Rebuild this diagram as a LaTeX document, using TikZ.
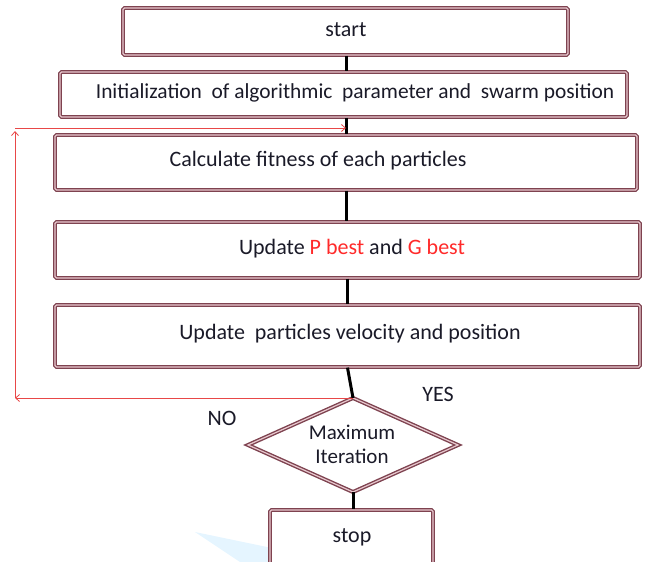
\documentclass[tikz,border=0pt]{standalone}
\usepackage{fontspec}
\setmainfont{Carlito}
\usetikzlibrary{arrows.meta}
\definecolor{boxdark}{HTML}{7E4350}
\definecolor{boxlight}{HTML}{E8C8CE}
\definecolor{txt}{HTML}{1A1A28}
\definecolor{redtxt}{HTML}{FF2A2A}
\definecolor{loopred}{HTML}{E84848}
\begin{document}
\begin{tikzpicture}[x=1pt,y=-1pt,
  procbox/.style={draw=boxdark, line width=1.3pt, double=boxlight, double distance=1.1pt,
    rounded corners=1.5pt, fill=white, inner sep=0pt},
  outline/.style={draw=boxdark, line width=1.4pt, double=boxlight, double distance=1.2pt, fill=white},
  lbl/.style={text=txt, font=\fontsize{22}{24}\selectfont, inner sep=0pt},
  dlbl/.style={text=txt, font=\fontsize{21}{24}\selectfont, inner sep=0pt, align=center},
  flow/.style={line width=3pt, draw=black},
  loop/.style={draw=loopred, line width=0.8pt, -{Straight Barb[length=4pt,width=7pt]}}
]
\useasboundingbox (0,0) rectangle (653,562);
\clip (0,0) rectangle (653,562);
\fill[blue!40!cyan!20, opacity=0.5] (195,532) -- (272,548) -- (272,562) -- (240,562) -- cycle;

% boxes
\node[procbox, minimum width=445pt, minimum height=47pt] (start) at (345.5,31.5) {};
\node[procbox, minimum width=567pt, minimum height=45pt] (init) at (343.5,94.5) {};
\node[procbox, minimum width=582pt, minimum height=55pt] (fit) at (346,162.5) {};
\node[procbox, minimum width=585pt, minimum height=56pt] (pg) at (347.5,250) {};
\node[procbox, minimum width=585pt, minimum height=62pt] (vel) at (347.5,336) {};
\node[procbox, minimum width=163pt, minimum height=90pt] (stop) at (351.5,555) {};

% diamond
\coordinate (dtop) at (353,398);
\coordinate (dright) at (458,445);
\coordinate (dbot) at (353,492);
\coordinate (dleft) at (248,445);
\draw[outline] (dtop) -- (dright) -- (dbot) -- (dleft) -- cycle;

% texts
\node[lbl] (starttxt) at (346,30) {start};
\node[lbl, font=\fontsize{21.4}{24}\selectfont] (inittxt) at (355,93) {Initialization\ \ of algorithmic\ \ parameter and\ \ swarm position};
\node[lbl] (fittxt) at (318,161) {Calculate fitness of each particles};
\node[lbl] (pgtxt) at (352,249) {Update \textcolor{redtxt}{P best} and \textcolor{redtxt}{G best}};
\node[lbl] (veltxt) at (350,334) {Update\ \ particles velocity and position};
\node[dlbl] (dec) at (352,444) {Maximum\\Iteration};
\node[lbl] (stoptxt) at (352,537) {stop};
\node[lbl] (yes) at (438,394) {YES};
\node[lbl] (no) at (222,418) {NO};

% flow connectors
\draw[flow] (start.south -| fit.north) -- (init.north -| fit.north);
\draw[flow] (init.south -| fit.north) -- (fit.north);
\draw[flow] (fit.south) -- (pg.north -| fit.south);
\draw[flow] (pg.south) -- (vel.north);
\draw[flow] (vel.south) -- (dtop);
\draw[flow] (dbot) -- (stop.north -| dbot);

% loop back
\coordinate (c1) at (15,398);
\coordinate (c2) at (15,131);
\coordinate (c3) at (15,128);
\coordinate (c4) at (346,128);
\draw[loop] (dtop) -- (c1);
\draw[loop] (c1) -- (c2);
\draw[loop] (c3) -- (c4);
\end{tikzpicture}
\end{document}
